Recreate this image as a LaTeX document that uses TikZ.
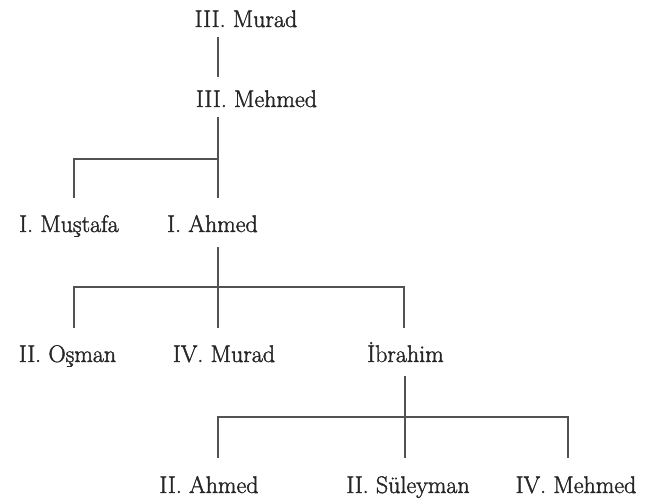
\documentclass[tikz,border=0pt]{standalone}
\usepackage{fontspec}
\newfontfamily\namefont[FakeBold=1.6]{Latin Modern Roman}
\begin{document}
\begin{tikzpicture}[x=0.75pt,y=-0.75pt,
  person/.style={anchor=base,inner sep=0pt,outer sep=0pt,text height=13pt,text depth=4pt,
    font=\namefont\fontsize{18}{21}\selectfont,text=black!85},
  link/.style={draw=black!68,line width=1.4pt}]
\useasboundingbox (0,0) rectangle (647,499);
% names
\node[person] (murad3)   at (246,27)  {III. Murad};
\node[person] (mehmed3)  at (256.5,107) {III. Mehmed};
\node[person] (mustafa)  at (69,232)  {I. Muştafa};
\node[person] (ahmed1)   at (212.5,232) {I. Ahmed};
\node[person] (osman)    at (67.5,362) {II. Oşman};
\node[person] (murad4)   at (224,362) {IV. Murad};
\node[person] (ibrahim)  at (405.5,362) {İbrahim};
\node[person] (ahmed2)   at (209,493) {II. Ahmed};
\node[person] (suleyman) at (408,493) {II. Süleyman};
\node[person] (mehmed4)  at (576,493) {IV. Mehmed};
% junctions
\coordinate (f1) at (218,159);
\coordinate (f2) at (218,287);
\coordinate (f3) at (405,417);
\coordinate (xl) at (74,0);
\coordinate (xr) at (404,0);
\coordinate (xrr) at (568,0);
% connectors
\draw[link,shorten <=3.5pt,shorten >=9.5pt] (murad3.south -| f1) -- (mehmed3.north -| f1);
\draw[link,shorten <=3.5pt] (mehmed3.south -| f1) -- (f1);
\draw[link,shorten >=12.5pt] (f1) -- (ahmed1.north -| f1);
\draw[link,shorten >=12.5pt] (f1) -| (mustafa.north -| xl);
\draw[link,shorten <=7.3pt] (ahmed1.south -| f2) -- (f2);
\draw[link,shorten >=12.5pt] (f2) -- (murad4.north -| f2);
\draw[link,shorten >=12.5pt] (f2) -| (osman.north -| xl);
\draw[link,shorten >=12.5pt] (f2) -| (ibrahim.north -| xr);
\draw[link,shorten <=6.5pt] (ibrahim.south -| f3) -- (f3);
\draw[link,shorten >=13.3pt] (f3) -- (suleyman.north -| f3);
\draw[link,shorten >=13.3pt] (f3) -| (ahmed2.north -| f1);
\draw[link,shorten >=13.3pt] (f3) -| (mehmed4.north -| xrr);
\end{tikzpicture}
\end{document}
